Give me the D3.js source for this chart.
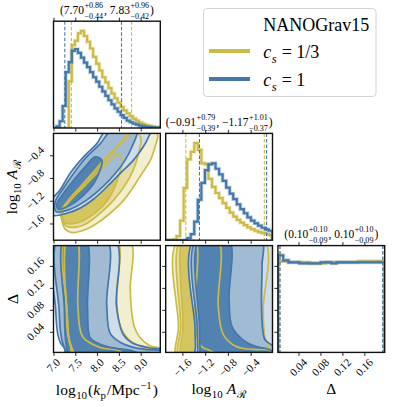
<!DOCTYPE html>
<html>
<head>
<meta charset="utf-8">
<script src="https://cdn.jsdelivr.net/npm/d3@7"></script>
<style>
  body { margin: 0; background: #fff; }
  svg { display: block; font-family: "Liberation Serif", "Times New Roman", serif; }
</style>
</head>
<body>
<svg id="chart" width="407" height="407"></svg>
<script>
// colours of the two runs
const yellow = "#CCBB44";   // c_s = 1/3
const blue = "#4477AA";     // c_s = 1
// filled credible regions, outer -> inner
const yellowFills = ["#f2eed0", "#e6dda2", "#d4c560"];
const blueFills = ["#d0dde9", "#a2bbd5", "#5282b1"];

// axis ranges and ticks
const kpDomain = [7.0, 9.45];
const arDomain = [-1.894, -0.016];
const deltaDomain = [0.0025, 0.197];
const kpTicks = [7.0, 7.5, 8.0, 8.5, 9.0];
const arTicks = [-1.6, -1.2, -0.8, -0.4];
const deltaTicks = [0.04, 0.08, 0.12, 0.16];

// 1D histograms (bin heights)
const kpBinStart = 7.0, kpBinWidth = 0.07;
const kpYellow = [0, 0, 0, 0, 0, 138, 245, 258, 280, 287, 272, 255, 235, 210, 190, 170, 150, 135, 118, 102,
                  88, 75, 62, 52, 43, 35, 28, 22, 16, 12, 8, 6, 4, 3, 2];
const kpBlue = [0, 5, 20, 65, 165, 195, 228, 233, 222, 208, 193, 180, 165, 150, 137, 122, 108, 95, 82, 70,
                58, 48, 38, 30, 22, 17, 13, 10, 7, 5, 4, 3, 2, 1, 1];

const arBinStart = -1.89, arBinWidth = 0.0623;
const arYellow = [0, 0, 2, 12, 58, 155, 240, 262, 288, 268, 228, 225, 182, 158, 140, 125, 110, 96, 82, 70,
                  60, 52, 45, 38, 33, 28, 24, 21, 18, 15];
const arBlue = [0, 0, 0, 0, 0, 0, 6, 18, 55, 120, 170, 208, 225, 228, 212, 195, 176, 156, 138, 122,
                106, 92, 80, 68, 58, 50, 43, 37, 32, 28];

const deltaBinStart = 0.0025, deltaBinWidth = 0.00973;
const deltaYellow = [91, 91, 90, 90, 90, 90, 89, 89, 89, 90, 90, 90, 90, 90, 90, 91, 91, 91, 91, 91];
const deltaBlue = [97, 92, 90, 90, 89, 89, 89, 89, 90, 90, 89, 90, 90, 90, 90, 90, 90, 90, 90, 90];

// dashed quantile lines
const kpQuantYellow = [7.41, 8.79], kpQuantBlue = [7.26, 8.56];
const arQuantYellow = [-1.54, -0.16], arQuantBlue = [-1.30, -0.12];
const deltaQuantYellow = [0.0065, 0.194], deltaQuantBlue = [0.0062, 0.1935];

// titles: [median, +err, -err] in the order printed
const kpTitle = [["7.70", "+0.86", "−0.44"], ["7.83", "+0.96", "−0.42"]];
const arTitle = [["−0.91", "+0.79", "−0.39"], ["−1.17", "+1.01", "−0.37"]];
const deltaTitle = [["0.10", "+0.10", "−0.09"], ["0.10", "+0.10", "−0.09"]];

// 2D credible contours, outer -> inner, as [x, y] in data units
const kpArYellow = [
  [[7.17,-1.39],[7.19,-1.54],[7.27,-1.70],[7.42,-1.76],[7.69,-1.72],[7.99,-1.60],[8.30,-1.42],[8.61,-1.19],[8.83,-0.96],[9.03,-0.72],[9.22,-0.49],[9.33,-0.25],[9.39,-0.05],[9.29,0.04],[8.76,0.04],[8.53,-0.20],[8.22,-0.43],[7.92,-0.69],[7.61,-0.96],[7.34,-1.19]],
  [[7.21,-1.45],[7.27,-1.63],[7.46,-1.67],[7.76,-1.60],[8.07,-1.42],[8.38,-1.19],[8.64,-0.93],[8.83,-0.66],[8.95,-0.37],[9.00,-0.08],[8.83,0.01],[8.61,-0.14],[8.38,-0.34],[8.07,-0.60],[7.76,-0.87],[7.46,-1.13],[7.27,-1.31]],
  [[7.19,-1.45],[7.27,-1.59],[7.54,-1.59],[7.84,-1.48],[8.15,-1.28],[8.34,-1.07],[8.49,-0.78],[8.57,-0.49],[8.49,-0.37],[8.30,-0.49],[7.99,-0.72],[7.69,-0.96],[7.38,-1.19],[7.23,-1.34]]
];
const kpArBlue = [
  [[6.96,-1.19],[6.96,-1.45],[7.31,-1.42],[7.61,-1.33],[7.92,-1.17],[8.22,-0.96],[8.53,-0.72],[8.83,-0.49],[9.06,-0.25],[9.18,-0.08],[9.22,0.04],[8.22,0.04],[7.99,-0.20],[7.69,-0.43],[7.38,-0.72],[7.15,-1.01]],
  [[7.04,-1.22],[7.06,-1.39],[7.38,-1.35],[7.76,-1.19],[8.15,-0.94],[8.45,-0.69],[8.64,-0.49],[8.80,-0.25],[8.91,0.04],[8.34,0.04],[8.07,-0.20],[7.76,-0.43],[7.46,-0.72],[7.23,-0.98]],
  [[7.08,-1.25],[7.11,-1.35],[7.38,-1.28],[7.69,-1.10],[7.92,-0.90],[8.07,-0.66],[8.11,-0.49],[7.96,-0.43],[7.73,-0.60],[7.46,-0.84],[7.23,-1.07]]
];
const kpDeltaYellow = [
  [[7.28,0.21],[7.29,0.10],[7.32,0.04],[7.39,0.015],[7.48,-0.01],[9.6,-0.01],[9.6,0.006],[9.2,0.015],[8.97,0.031],[8.85,0.05],[8.78,0.087],[8.76,0.12],[8.73,0.21]],
  [[7.30,0.21],[7.31,0.08],[7.35,0.03],[7.43,0.008],[7.50,-0.01],[9.6,-0.01],[9.6,0.004],[9.13,0.010],[8.74,0.025],[8.51,0.055],[8.45,0.11],[8.44,0.21]],
  [[7.32,0.21],[7.33,0.05],[7.37,0.02],[7.45,0.005],[7.55,-0.01],[8.7,-0.01],[8.51,0.005],[8.05,0.012],[7.67,0.031],[7.56,0.086],[7.53,0.21]]
];
const kpDeltaBlue = [
  [[7.05,0.21],[7.05,0.08],[7.10,0.035],[7.16,0.02],[7.25,0.01],[7.32,-0.01],[9.6,-0.01],[9.6,0.005],[9.2,0.011],[8.82,0.019],[8.60,0.035],[8.50,0.06],[8.44,0.09],[8.40,0.21]],
  [[7.12,0.21],[7.13,0.08],[7.17,0.035],[7.23,0.015],[7.30,0.004],[7.35,-0.01],[9.6,-0.01],[9.6,0.003],[9.1,0.008],[8.82,0.012],[8.51,0.022],[8.30,0.037],[8.22,0.09],[8.21,0.21]],
  [[7.25,0.21],[7.25,0.08],[7.27,0.03],[7.30,0.012],[7.34,0.002],[7.40,-0.01],[9.2,-0.01],[8.82,0.005],[8.28,0.012],[7.95,0.022],[7.83,0.031],[7.78,0.086],[7.73,0.21]]
];
const arDeltaYellow = [
  [[-1.66,0.21],[-1.67,0.05],[-1.68,-0.01],[-0.05,-0.01],[-0.08,0.012],[-0.15,0.03],[-0.18,0.08],[-0.18,0.21]],
  [[-1.62,0.21],[-1.63,0.05],[-1.64,-0.01],[0.1,-0.01],[-0.06,0.006],[-0.36,0.008],[-0.65,0.013],[-0.88,0.035],[-0.97,0.086],[-0.99,0.21]],
  [[-1.585,0.21],[-1.59,0.05],[-1.60,-0.01],[-0.9,-0.01],[-1.1,0.005],[-1.26,0.013],[-1.34,0.03],[-1.38,0.08],[-1.38,0.21]]
];
const arDeltaBlue = [
  [[-1.38,0.21],[-1.38,0.05],[-1.37,0.015],[-1.36,-0.01],[0.1,-0.01],[0.1,0.21]],
  [[-1.34,0.21],[-1.34,0.05],[-1.33,0.01],[-1.32,-0.01],[0.1,-0.01],[0.1,0.01],[-0.06,0.018],[-0.15,0.026],[-0.19,0.045],[-0.21,0.1],[-0.20,0.16],[-0.22,0.21]],
  [[-1.30,0.21],[-1.30,0.05],[-1.29,0.01],[-1.28,-0.01],[0.1,-0.01],[-0.06,0.007],[-0.30,0.013],[-0.53,0.025],[-0.73,0.05],[-0.78,0.1],[-0.79,0.21]]
];

// ---- layout ----
const cols = [53.5, 165.7, 277.9];
const rows = [21.2, 133.4, 245.6];
const size = 106.8;
const svg = d3.select("#chart");

const xKp = d3.scaleLinear().domain(kpDomain).range([0, size]);
const xAr = d3.scaleLinear().domain(arDomain).range([0, size]);
const xDelta = d3.scaleLinear().domain(deltaDomain).range([0, size]);
const yAr = d3.scaleLinear().domain(arDomain).range([size, 0]);
const yDelta = d3.scaleLinear().domain(deltaDomain).range([size, 0]);

const fmt1 = d3.format(".1f"), fmt2 = d3.format(".2f");

let clipCount = 0;
function panel(r, c) {
  const g = svg.append("g").attr("transform", `translate(${cols[c]},${rows[r]})`);
  const id = "clip" + (clipCount++);
  g.append("clipPath").attr("id", id).append("rect").attr("width", size).attr("height", size);
  const inner = g.append("g").attr("clip-path", `url(#${id})`);
  return { g, inner };
}

function frame(g) {
  g.append("rect").attr("width", size).attr("height", size)
    .attr("fill", "none").attr("stroke", "#111").attr("stroke-width", 1.4);
}

// ticks from d3 axis, labels rotated 45deg with their box centred on the tick
const tickFont = 11;
function axis(g, kind, scale, ticks, fmt, labels) {
  const gen = { bottom: d3.axisBottom, top: d3.axisTop, left: d3.axisLeft }[kind];
  const ax = g.append("g")
    .attr("transform", kind === "bottom" ? `translate(0,${size})` : null)
    .call(gen(scale).tickValues(ticks).tickSize(3.5).tickSizeOuter(0).tickFormat(() => ""));
  ax.select(".domain").remove();
  ax.selectAll(".tick text").remove();
  ax.selectAll(".tick line").attr("stroke", "#111").attr("stroke-width", 0.9);
  if (!labels) return;
  const lab = g.append("g");
  ticks.forEach(v => {
    const holder = lab.append("g");
    const t = holder.append("text").attr("font-size", tickFont).text(fmt(v));
    const w = t.node().getComputedTextLength();
    const h = (w + 7.5) / Math.SQRT2;
    const x = kind === "bottom" ? scale(v) : -(8.5 + h / 2);
    const y = kind === "bottom" ? size + 5.5 + h / 2 : scale(v);
    holder.attr("transform", `translate(${x},${y}) rotate(-45) translate(${-w / 2},${0.33 * tickFont})`);
  });
}

function hist(g, xs, ys, start, width, vals, color) {
  const pts = [[start, 0]];
  vals.forEach((v, i) => pts.push([start + i * width, v]));
  const end = start + vals.length * width;
  pts.push([end, vals[vals.length - 1]], [end, 0]);
  const line = d3.line().x(d => xs(d[0])).y(d => ys(d[1])).curve(d3.curveStepAfter);
  g.append("path").attr("d", line(pts)).attr("fill", "none")
    .attr("stroke", color).attr("stroke-opacity", 0.3).attr("stroke-width", 4);
  g.append("path").attr("d", line(pts)).attr("fill", "none")
    .attr("stroke", color).attr("stroke-width", 2.2);
}

function quantiles(g, xs, qs, color) {
  g.selectAll(null).data(qs).enter().append("line")
    .attr("x1", d => xs(d)).attr("x2", d => xs(d))
    .attr("y1", 0).attr("y2", size)
    .attr("stroke", color).attr("stroke-width", 1.1).attr("stroke-dasharray", "3.5,2");
}

function contourLine(xs, ys) {
  return d3.line().x(d => xs(d[0])).y(d => ys(d[1])).curve(d3.curveCatmullRomClosed.alpha(0.5));
}
function contourFills(g, xs, ys, levels, fills) {
  const line = contourLine(xs, ys);
  levels.forEach((poly, i) => g.append("path").attr("d", line(poly)).attr("fill", fills[i]));
}
function contourLines(g, xs, ys, levels, color) {
  const line = contourLine(xs, ys);
  levels.forEach(poly => g.append("path").attr("d", line(poly))
    .attr("fill", "none").attr("stroke", color).attr("stroke-width", 1.7));
}
function pair(g, xs, ys, yLevels, bLevels) {
  contourFills(g, xs, ys, yLevels, yellowFills);
  contourFills(g, xs, ys, bLevels, blueFills);
  contourLines(g, xs, ys, yLevels, yellow);
  contourLines(g, xs, ys, bLevels, blue);
}

// simple math-like text: runs, italics, stacked scripts
function mathText(parent, parts, size, x, y, rot) {
  const grp = parent.append("g");
  let cx = 0;
  parts.forEach(p => {
    if (p.gap) { cx += p.gap; return; }
    if (p.t !== undefined) {
      const el = grp.append("text").attr("x", cx).attr("font-size", size)
        .attr("font-style", p.it ? "italic" : null).text(p.t);
      cx += el.node().getComputedTextLength();
      return;
    }
    const ss = size * 0.7;
    let w = 0;
    if (p.sup !== undefined) {
      const el = grp.append("text").attr("x", cx + 0.5)
        .attr("y", -size * (p.sub !== undefined ? 0.52 : 0.42)).attr("font-size", ss).text(p.sup);
      w = Math.max(w, el.node().getComputedTextLength());
    }
    if (p.sub !== undefined) {
      const el = grp.append("text").attr("x", cx + 0.5)
        .attr("y", size * (p.sup !== undefined ? 0.42 : 0.28)).attr("font-size", ss)
        .attr("font-style", p.it ? "italic" : null).text(p.sub);
      w = Math.max(w, el.node().getComputedTextLength());
    }
    cx += w + 1.5;
  });
  grp.attr("transform", `translate(${x},${y}) rotate(${rot || 0}) translate(${-cx / 2},0)`);
  return grp;
}

function titleParts(t) {
  return [{ t: "(" + t[0][0] }, { sup: t[0][1], sub: t[0][2] }, { t: ", " + t[1][0] },
          { sup: t[1][1], sub: t[1][2] }, { t: ")" }];
}

// ---- diagonal: log10 kp ----
{
  const { g, inner } = panel(0, 0);
  const ys = d3.scaleLinear().domain([0, 1.1 * d3.max(kpYellow.concat(kpBlue))]).range([size, 0]);
  hist(inner, xKp, ys, kpBinStart, kpBinWidth, kpYellow, yellow);
  quantiles(inner, xKp, kpQuantYellow, yellow);
  hist(inner, xKp, ys, kpBinStart, kpBinWidth, kpBlue, blue);
  quantiles(inner, xKp, kpQuantBlue, blue);
  axis(g, "bottom", xKp, kpTicks, fmt1, false);
  axis(g, "top", xKp, kpTicks, fmt1, false);
  frame(g);
  mathText(g, titleParts(kpTitle), 11.5, size / 2, -7.5);
}

// ---- diagonal: log10 A_R ----
{
  const { g, inner } = panel(1, 1);
  const ys = d3.scaleLinear().domain([0, 1.1 * d3.max(arYellow.concat(arBlue))]).range([size, 0]);
  hist(inner, xAr, ys, arBinStart, arBinWidth, arYellow, yellow);
  quantiles(inner, xAr, arQuantYellow, yellow);
  hist(inner, xAr, ys, arBinStart, arBinWidth, arBlue, blue);
  quantiles(inner, xAr, arQuantBlue, blue);
  axis(g, "bottom", xAr, arTicks, fmt1, false);
  axis(g, "top", xAr, arTicks, fmt1, false);
  frame(g);
  mathText(g, titleParts(arTitle), 11.5, size / 2, -7.5);
}

// ---- diagonal: Delta ----
{
  const { g, inner } = panel(2, 2);
  const ys = d3.scaleLinear().domain([0, 1.1 * d3.max(deltaYellow.concat(deltaBlue))]).range([size, 0]);
  hist(inner, xDelta, ys, deltaBinStart, deltaBinWidth, deltaYellow, yellow);
  quantiles(inner, xDelta, deltaQuantYellow, yellow);
  hist(inner, xDelta, ys, deltaBinStart, deltaBinWidth, deltaBlue, blue);
  quantiles(inner, xDelta, deltaQuantBlue, blue);
  axis(g, "bottom", xDelta, deltaTicks, fmt2, true);
  axis(g, "top", xDelta, deltaTicks, fmt2, false);
  axis(g, "left", yDelta, deltaTicks, fmt2, false);
  frame(g);
  mathText(g, titleParts(deltaTitle), 11.5, size / 2, -7.5);
}

// ---- kp vs A_R ----
{
  const { g, inner } = panel(1, 0);
  pair(inner, xKp, yAr, kpArYellow, kpArBlue);
  axis(g, "bottom", xKp, kpTicks, fmt1, false);
  axis(g, "left", yAr, arTicks, fmt1, true);
  frame(g);
}

// ---- kp vs Delta ----
{
  const { g, inner } = panel(2, 0);
  pair(inner, xKp, yDelta, kpDeltaYellow, kpDeltaBlue);
  axis(g, "bottom", xKp, kpTicks, fmt1, true);
  axis(g, "left", yDelta, deltaTicks, fmt2, true);
  frame(g);
}

// ---- A_R vs Delta ----
{
  const { g, inner } = panel(2, 1);
  pair(inner, xAr, yDelta, arDeltaYellow, arDeltaBlue);
  axis(g, "bottom", xAr, arTicks, fmt1, true);
  axis(g, "left", yDelta, deltaTicks, fmt2, false);
  frame(g);
}

// ---- axis labels ----
const kpLabel = [{ t: "log" }, { sub: "10" }, { t: "(" }, { t: "k", it: true }, { sub: "p" },
                 { t: "/Mpc" }, { sup: "−1" }, { t: ")" }];
const arLabel = [{ t: "log" }, { sub: "10" }, { gap: 3 }, { t: "A", it: true }, { sub: "ℛ" }];
const deltaLabel = [{ t: "Δ" }];
mathText(svg, kpLabel, 15.5, cols[0] + size / 2, 395);
mathText(svg, arLabel, 15.5, cols[1] + size / 2, 394);
mathText(svg, deltaLabel, 15.5, cols[2] + size / 2, 394);
mathText(svg, arLabel, 15.5, 17, rows[1] + size / 2, -90);
mathText(svg, deltaLabel, 15.5, 18, rows[2] + size / 2, -90);

// ---- legend ----
const legendNames = [[{ t: "c", it: true }, { sub: "s", it: true }, { gap: 4 }, { t: "= 1/3" }],
                     [{ t: "c", it: true }, { sub: "s", it: true }, { gap: 4 }, { t: "= 1" }]];
const legendColors = [yellow, blue];
const lg = svg.append("g");
lg.append("rect").attr("x", 203.5).attr("y", 8.5).attr("width", 172.5).attr("height", 88)
  .attr("rx", 3.5).attr("fill", "#fff").attr("stroke", "#d4d4d4").attr("stroke-width", 1);
lg.append("text").attr("x", 263.3).attr("y", 30.5).attr("font-size", 18).text("NANOGrav15");
legendNames.forEach((parts, i) => {
  const yLine = 51 + i * 28;
  lg.append("line").attr("x1", 209).attr("x2", 250).attr("y1", yLine).attr("y2", yLine)
    .attr("stroke", legendColors[i]).attr("stroke-width", 4);
  const m = mathText(lg, parts, 18, 0, yLine + 6.5);
  m.attr("transform", `translate(263.3,${yLine + 6.5})`);
});
</script>
</body>
</html>
